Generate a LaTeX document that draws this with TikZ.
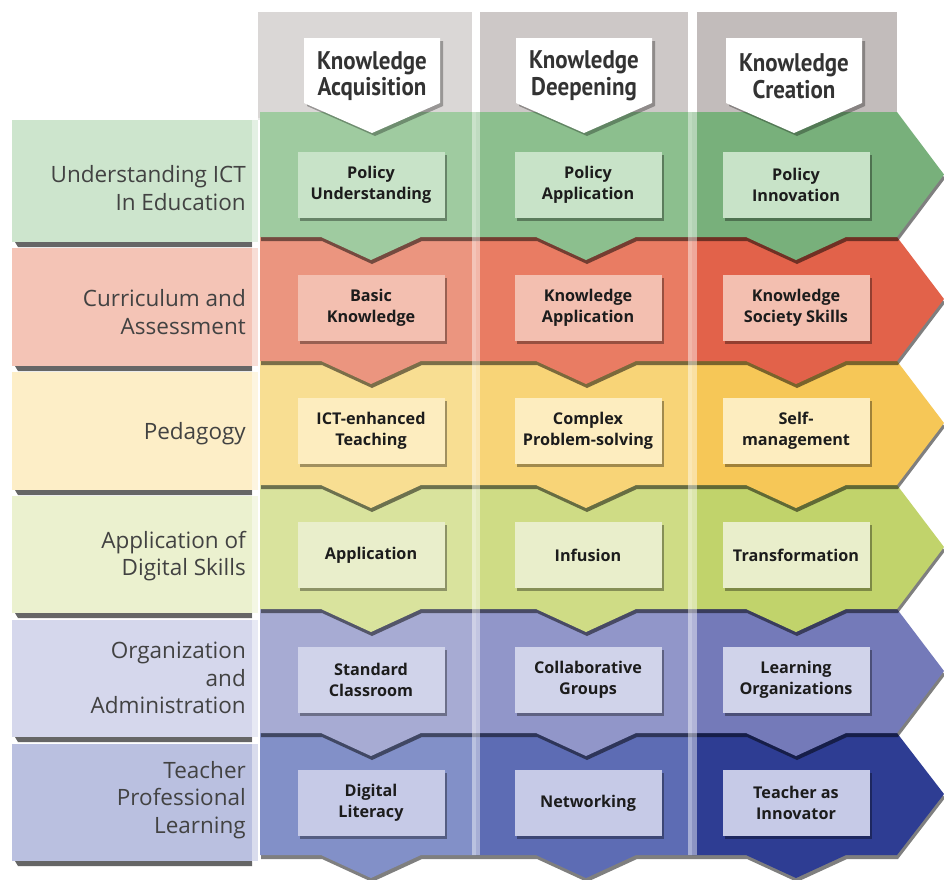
\documentclass[tikz,border=0pt]{standalone}
\usepackage{fontspec}
\setmainfont{Open Sans}
\newfontfamily\headfont{PT Sans}[FakeStretch=0.9]
\newfontfamily\cellfont{Open Sans}
\usetikzlibrary{shadows}
% header greys
\definecolor{hA}{HTML}{DAD7D6}\definecolor{hB}{HTML}{CDC8C7}\definecolor{hC}{HTML}{C2BCBB}
% row colours: panel, col1, col2, col3, box
\definecolor{gP}{HTML}{CDE5CD}\definecolor{gA}{HTML}{9FCBA0}\definecolor{gB}{HTML}{8CBF8E}\definecolor{gC}{HTML}{78B07B}\definecolor{gX}{HTML}{C8E3C8}
\definecolor{rP}{HTML}{F4C4B6}\definecolor{rA}{HTML}{EB957F}\definecolor{rB}{HTML}{E97C63}\definecolor{rC}{HTML}{E2624A}\definecolor{rX}{HTML}{F3BFB0}
\definecolor{yP}{HTML}{FDEEC7}\definecolor{yA}{HTML}{F8DE92}\definecolor{yB}{HTML}{F8D477}\definecolor{yC}{HTML}{F6C757}\definecolor{yX}{HTML}{FDEDBF}
\definecolor{lP}{HTML}{EBF1CF}\definecolor{lA}{HTML}{D9E39D}\definecolor{lB}{HTML}{CFDC85}\definecolor{lC}{HTML}{C1D36B}\definecolor{lX}{HTML}{E9EECB}
\definecolor{vP}{HTML}{D5D7EC}\definecolor{vA}{HTML}{A7ABD3}\definecolor{vB}{HTML}{9196C9}\definecolor{vC}{HTML}{747AB9}\definecolor{vX}{HTML}{D0D3EA}
\definecolor{bP}{HTML}{BAC0E0}\definecolor{bA}{HTML}{8290C8}\definecolor{bB}{HTML}{5D6CB4}\definecolor{bC}{HTML}{2E3D93}\definecolor{bX}{HTML}{C6CAE7}
\definecolor{labtxt}{HTML}{424242}\definecolor{headtxt}{HTML}{333333}\definecolor{celltxt}{HTML}{1C1C1C}

\tikzset{
  bandpath/.style 2 args={insert path={(260,#1) -- (897,#1) -- (944,{(#1+#2)/2}) -- (897,#2)
     -- (846,#2) -- (796,{#2+23}) -- (746,#2) -- (636,#2) -- (586,{#2+23}) -- (536,#2)
     -- (421,#2) -- (371,{#2+23}) -- (321,#2) -- (260,#2) -- cycle}},
  headpath/.style={insert path={(-68,38) -- (68,38) -- (68,103) -- (0,133) -- (-68,103) -- cycle}},
  lab/.style={anchor=east, align=right, text=labtxt, font=\fontsize{22.5}{27.5}\selectfont, inner sep=0pt},
  headtext/.style={align=center, text=headtxt, font=\headfont\bfseries\fontsize{25.5}{26.5}\selectfont, inner sep=0pt},
  cellbox/.style={minimum width=147, minimum height=66, inner sep=0pt, align=center, text=celltxt,
     font=\cellfont\bfseries\fontsize{16.2}{21}\selectfont,
     drop shadow={shadow xshift=2pt, shadow yshift=-3pt, opacity=.35, fill=black}},
  stripe/.style={fill=white, opacity=.45}
}
\newcommand\rowband[5]{%
  \fill[black,opacity=.5,shift={(1,4)}] [bandpath={#1}{#2}];
  \begin{scope}
    \clip [bandpath={#1}{#2}];
    \fill[#3] (255,#1-2) rectangle (476,#2+30);
    \fill[#4] (476,#1-2) rectangle (692,#2+30);
    \fill[#5] (692,#1-2) rectangle (950,#2+30);
  \end{scope}}
\newcommand\leftpanel[3]{%
  \fill[black!75,opacity=.8] (15,#2) -- (252,#2) -- (252,#2+5) -- (18,#2+5) -- cycle;
  \fill[#3] (12,#1) rectangle (258,#2);}

\begin{document}
\begin{tikzpicture}[x=1pt,y=-1pt]
\useasboundingbox (0,0) rectangle (944,879);
\fill[white] (0,0) rectangle (944,879);
% header grey columns
\fill[hA] (258,12) rectangle (472,120);
\fill[hB] (480,12) rectangle (688,120);
\fill[hC] (697,12) rectangle (897,120);
% bands, bottom to top
\rowband{733}{855}{bA}{bB}{bC}
\rowband{609}{733}{vA}{vB}{vC}
\rowband{485}{609}{lA}{lB}{lC}
\rowband{361}{485}{yA}{yB}{yC}
\rowband{237}{361}{rA}{rB}{rC}
\rowband{112}{237}{gA}{gB}{gC}
% header pentagons
\foreach \c/\nm/\t in {372/hd1/{Knowledge\\Acquisition}, 584/hd2/{Knowledge\\Deepening}, 794/hd3/{Knowledge\\Creation}}{
  \fill[black,opacity=.3,shift={(\c+3,3)}] [headpath];
  \fill[white,shift={(\c,0)}] [headpath];
  \node[headtext] (\nm) at (\c,76) {\t};
}
% left panels
\leftpanel{120}{242}{gP}
\leftpanel{248}{366}{rP}
\leftpanel{372}{490}{yP}
\leftpanel{496}{613}{lP}
\leftpanel{620}{737}{vP}
\leftpanel{744}{861}{bP}
% light stripes between columns
\fill[stripe] (252,118) rectangle (260,862);
\fill[stripe] (472,112) rectangle (480,855);
\fill[stripe] (688,112) rectangle (697,855);
% left labels
\node[lab] (lab1) at (246,188) {Understanding ICT\\In Education};
\node[lab] (lab2) at (246,312) {Curriculum and\\Assessment};
\node[lab] (lab3) at (246,434) {Pedagogy};
\node[lab] (lab4) at (246,556) {Application of\\Digital Skills};
\node[lab] (lab5) at (246,678) {Organization\\and\\Administration};
\node[lab] (lab6) at (246,800) {Teacher\\Professional\\Learning};
% cells
\node[cellbox, fill=gX] (c11) at (371,185) {Policy\\Understanding};
\node[cellbox, fill=gX] (c12) at (588,185) {Policy\\Application};
\node[cellbox, fill=gX] (c13) at (796,185) {Policy\\Innovation};
\node[cellbox, fill=rX] (c21) at (371,308) {Basic\\Knowledge};
\node[cellbox, fill=rX] (c22) at (588,308) {Knowledge\\Application};
\node[cellbox, fill=rX] (c23) at (796,308) {Knowledge\\Society Skills};
\node[cellbox, fill=yX] (c31) at (371,431) {ICT-enhanced\\Teaching};
\node[cellbox, fill=yX] (c32) at (588,431) {Complex\\Problem-solving};
\node[cellbox, fill=yX] (c33) at (796,431) {Self-\\management};
\node[cellbox, fill=lX] (c41) at (371,555) {Application};
\node[cellbox, fill=lX] (c42) at (588,555) {Infusion};
\node[cellbox, fill=lX] (c43) at (796,555) {Transformation};
\node[cellbox, fill=vX] (c51) at (371,680) {Standard\\Classroom};
\node[cellbox, fill=vX] (c52) at (588,680) {Collaborative\\Groups};
\node[cellbox, fill=vX] (c53) at (796,680) {Learning\\Organizations};
\node[cellbox, fill=bX] (c61) at (371,803) {Digital\\Literacy};
\node[cellbox, fill=bX] (c62) at (588,803) {Networking};
\node[cellbox, fill=bX] (c63) at (796,803) {Teacher as\\Innovator};
\end{tikzpicture}
\end{document}
